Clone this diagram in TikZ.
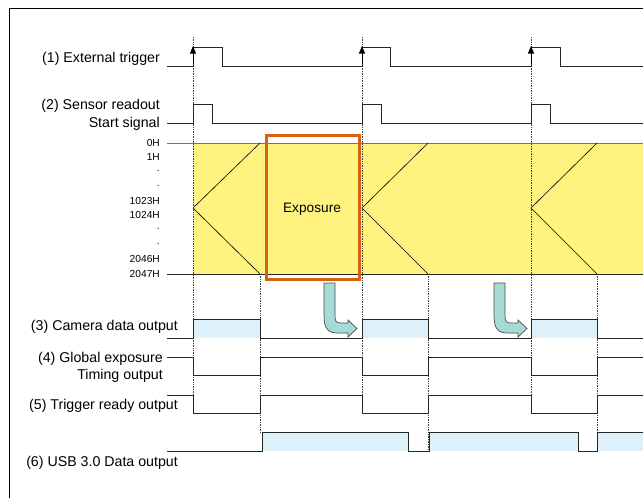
\documentclass[tikz,border=0pt]{standalone}
\usepackage{fontspec}
\setmainfont{Liberation Sans}
\usetikzlibrary{arrows.meta}
\definecolor{readout}{RGB}{255,243,128}
\definecolor{datablue}{RGB}{222,240,250}
\definecolor{expframe}{RGB}{214,97,14}
\definecolor{bendteal}{RGB}{166,218,213}
\tikzset{
  sig/.style={line width=0.9pt,draw=black!85},
  guide/.style={densely dotted,line width=0.7pt,draw=black!75},
  lbl/.style={anchor=east,inner sep=0pt,font=\fontsize{14.2}{16}\selectfont},
  linelbl/.style={anchor=east,inner sep=0pt,font=\fontsize{10.2}{12}\selectfont},
  bentarrow/.style={fill=bendteal,draw=black!70,line width=0.7pt}
}
\begin{document}
\begin{tikzpicture}[x=1pt,y=-1pt]
  \useasboundingbox (0,0) rectangle (643,498);
  \fill[white] (0,0) rectangle (643,498);
  \draw[line width=0.9pt] (9.5,510) -- (9.5,8.5) -- (660,8.5);

  % readout area
  \fill[readout] (193,143) rectangle (643,274);
  \draw[line width=0.9pt,draw=black!55] (167,143) -- (643,143);
  \draw[sig] (167,274) -- (643,274);
  \foreach \t/\e in {193/260,362/428,531/597}
    \draw[line width=0.6pt] (\e,143) -- (\t,208) -- (\e,274);

  % guide lines
  \foreach \t in {193,362,531}
    \draw[guide] (\t,37) -- (\t,413);
  \draw[guide] (260,274) -- (260,433);
  \draw[guide] (428,274) -- (428,451);
  \draw[guide] (597,274) -- (597,451);

  % data fills
  \foreach \t/\e in {193/260,362/428,531/597}
    \fill[datablue] (\t,319) rectangle (\e,338);
  \fill[datablue] (262,432) rectangle (408,451);
  \fill[datablue] (429,432) rectangle (578,451);
  \fill[datablue] (597,432) rectangle (643,451);

  % (1) external trigger
  \draw[sig] (167,66) -- (193,66) -- (193,47) -- (222,47) -- (222,66) -- (362,66) -- (362,47) -- (390,47)
    -- (390,66) -- (531,66) -- (531,47) -- (560,47) -- (560,66) -- (643,66);
  \foreach \t in {193,362,531}
    \draw[-{Triangle[length=7.5pt,width=6pt]},line width=0.9pt] (\t,64) -- (\t,46);

  % (2) sensor readout start
  \draw[sig] (167,123) -- (193,123) -- (193,104) -- (212,104) -- (212,123) -- (362,123) -- (362,104) -- (381,104)
    -- (381,123) -- (531,123) -- (531,104) -- (550,104) -- (550,123) -- (643,123);

  % (3) camera data
  \draw[sig] (167,338) -- (193,338) -- (193,319) -- (260,319) -- (260,338) -- (362,338) -- (362,319) -- (428,319)
    -- (428,338) -- (531,338) -- (531,319) -- (597,319) -- (597,338) -- (643,338);

  % (4) global exposure
  \draw[sig] (167,357) -- (193,357) -- (193,375) -- (260,375) -- (260,357) -- (362,357) -- (362,375) -- (428,375)
    -- (428,357) -- (531,357) -- (531,375) -- (597,375) -- (597,357) -- (643,357);

  % (5) trigger ready
  \draw[sig] (167,395) -- (193,395) -- (193,413) -- (260,413) -- (260,395) -- (362,395) -- (362,413) -- (428,413)
    -- (428,395) -- (531,395) -- (531,413) -- (597,413) -- (597,395) -- (643,395);

  % (6) usb
  \draw[sig] (167,451) -- (262,451) -- (262,432) -- (408,432) -- (408,451) -- (429,451) -- (429,432) -- (578,432)
    -- (578,451) -- (597,451) -- (597,432) -- (643,432);

  % exposure
  \draw[expframe,line width=3pt] (266,135) rectangle (359,279);
  \node[font=\fontsize{13.7}{15}\selectfont] (expo) at (312,209) {Exposure};

  % bent arrows
  \foreach \x in {324,494}
    \draw[bentarrow,shift={(\x,283)}] (0,0) -- (0,32) .. controls (0,46) and (4,50) .. (14,50) -- (24,50) -- (24,54)
      -- (33,45.5) -- (24,37) -- (24,40) -- (17,40) .. controls (12,40) and (11,38) .. (11,33) -- (11,0) -- cycle;

  % labels
  \node[lbl] (ext) at (160,59) {(1) External trigger};
  \node[lbl] (srd) at (160,106) {(2) Sensor readout};
  \node[lbl] (sst) at (160,124) {Start signal};
  \node[lbl] (cam) at (178,327) {(3) Camera data output};
  \node[lbl] (gex) at (163,359) {(4) Global exposure};
  \node[lbl] (gtm) at (163,376) {Timing output};
  \node[lbl] (trg) at (178,406) {(5) Trigger ready output};
  \node[lbl] (usb) at (178,463) {(6) USB 3.0 Data output};

  \node[linelbl] (h0) at (160,143) {0H};
  \node[linelbl] (h1) at (160,157) {1H};
  \node[linelbl] (d1) at (160,171) {.};
  \node[linelbl] (d2) at (160,186) {.};
  \node[linelbl] (h1023) at (160,201) {1023H};
  \node[linelbl] (h1024) at (160,215) {1024H};
  \node[linelbl] (d3) at (160,229) {.};
  \node[linelbl] (d4) at (160,244) {.};
  \node[linelbl] (h2046) at (160,259) {2046H};
  \node[linelbl] (h2047) at (160,274) {2047H};
\end{tikzpicture}
\end{document}
